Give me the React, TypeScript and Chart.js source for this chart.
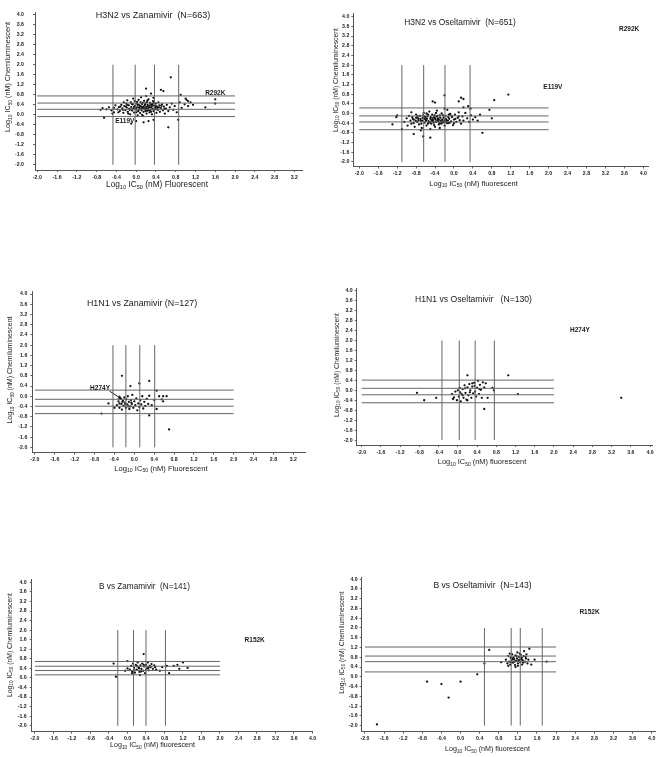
import React, { useEffect, useRef } from "react";
import { Chart, registerables } from "chart.js";

Chart.register(...registerables);

// ---------- shared tick labels ----------
const xTicksTo32 = [-2.0, -1.6, -1.2, -0.8, -0.4, 0.0, 0.4, 0.8, 1.2, 1.6, 2.0, 2.4, 2.8, 3.2];
const xTicksTo40 = [-2.0, -1.6, -1.2, -0.8, -0.4, 0.0, 0.4, 0.8, 1.2, 1.6, 2.0, 2.4, 2.8, 3.2, 3.6, 4.0];
const yTicks = [-2.0, -1.6, -1.2, -0.8, -0.4, 0.0, 0.4, 0.8, 1.2, 1.6, 2.0, 2.4, 2.8, 3.2, 3.6, 4.0];
const hLineSpan = [-2.0, 2.0];
const vLineSpan = [-2.0, 2.0];

// ---------- Panel 1: H3N2 vs Zanamivir ----------
const h3n2ZanPoints: number[][] = [
  [-0.38, 0.22], [-0.35, 0.31], [-0.33, 0.15], [-0.3, 0.4], [-0.28, 0.26], [-0.26, 0.08], [-0.24, 0.35], [-0.22, 0.19],
  [-0.2, 0.45], [-0.19, 0.29], [-0.17, 0.12], [-0.15, 0.38], [-0.14, 0.24], [-0.12, 0.02], [-0.11, 0.5], [-0.1, 0.31],
  [-0.08, 0.17], [-0.07, 0.42], [-0.05, 0.27], [-0.04, 0.09], [-0.03, 0.55], [-0.02, 0.36], [0.0, 0.21], [0.01, 0.46],
  [0.02, 0.3], [0.03, -0.02], [0.04, 0.14], [0.05, 0.6], [0.06, 0.39], [0.07, 0.25], [0.08, 0.07], [0.09, 0.5],
  [0.1, 0.33], [0.11, 0.18], [0.12, 0.43], [0.13, 0.28], [0.14, -0.05], [0.15, 0.12], [0.16, 0.56], [0.17, 0.37],
  [0.18, 0.22], [0.19, 0.47], [0.2, 0.31], [0.21, 0.05], [0.22, 0.16], [0.23, 0.4], [0.24, 0.26], [0.25, 0.62],
  [0.26, 0.35], [0.27, 0.1], [0.28, 0.48], [0.29, 0.2], [0.3, 0.3], [0.31, 0.42], [0.32, 0.02], [0.33, 0.25],
  [0.34, 0.55], [0.35, 0.15], [0.36, 0.37], [0.38, 0.28], [0.4, 0.45], [0.41, 0.08], [0.42, 0.33], [0.44, 0.2],
  [0.45, 0.5], [0.47, 0.38], [0.48, 0.12], [0.5, 0.27], [0.52, 0.42], [0.54, 0.18], [0.56, 0.33], [0.58, 0.05],
  [0.6, 0.25], [0.62, 0.4], [0.65, 0.15], [0.68, 0.3], [0.72, 0.45], [0.75, 0.2], [0.78, 0.35], [0.82, 0.1],
  [0.88, 0.5], [0.92, 0.28], [0.98, 0.42], [1.02, 0.6], [1.05, 0.35], [1.1, 0.5], [-0.45, 0.28], [-0.5, 0.18],
  [-0.55, 0.3], [-0.6, 0.22], [-0.68, 0.27], [-0.72, 0.2], [-0.48, 0.05], [-0.42, 0.38], [-0.25, 0.5], [-0.18, 0.58],
  [-0.06, 0.65], [0.1, 0.7], [0.2, 0.75], [0.35, 0.68], [-0.36, 0.1], [-0.16, 0.05], [0.0, 0.1], [0.12, 0.0],
  [0.22, 0.52], [0.3, 0.12], [0.4, 0.22], [-0.09, 0.22], [0.06, 0.3], [0.16, 0.27], [0.26, 0.18], [0.36, 0.48],
  [-0.21, 0.33], [-0.13, 0.2], [-0.01, 0.26], [0.03, 0.4], [0.08, 0.35], [0.14, 0.32], [0.18, 0.41], [0.21, 0.24],
  [0.27, 0.3], [0.32, 0.36], [0.37, 0.22], [0.43, 0.28], [-0.27, 0.2], [-0.09, 0.44], [0.05, 0.19], [0.11, 0.25],
  [0.19, 0.15], [0.24, 0.34], [0.29, 0.41], [0.39, 0.35], [-0.32, 0.33], [-0.18, 0.4], [-0.04, 0.33], [0.02, 0.52],
  [0.13, 0.48], [0.23, 0.58], [0.33, 0.44], [0.46, 0.3], [0.51, 0.36], [0.57, 0.24],
  [0.7, 1.5], [0.5, 1.0], [0.55, 0.95], [0.9, 0.8], [1.0, 0.65], [1.05, 0.55], [1.6, 0.62], [1.6, 0.45],
  [1.4, 0.3], [1.15, 0.4], [0.65, -0.5], [0.85, -0.2], [-0.65, -0.12], [-0.45, 0.1], [-0.1, -0.35], [0.0, -0.25],
  [0.15, -0.3], [0.25, -0.25], [0.35, -0.2], [0.2, 1.05], [0.3, 0.85],
];
const h3n2ZanH = [0.755, 0.47, 0.22, -0.07];
const h3n2ZanV = [-0.47, -0.02, 0.37, 0.86];
const h3n2ZanLabels = [
  { text: "R292K", x: 1.6, y: 0.86 },
  { text: "E119V", x: -0.23, y: -0.26 },
];

// ---------- Panel 2: H3N2 vs Oseltamivir ----------
const h3n2OselPoints: number[][] = [
  [-1.05, -0.35], [-1.0, -0.2], [-0.98, -0.5], [-0.95, -0.1], [-0.92, -0.3], [-0.9, -0.42], [-0.88, -0.15], [-0.85, -0.25],
  [-0.83, -0.55], [-0.8, -0.05], [-0.78, -0.35], [-0.76, -0.2], [-0.74, -0.45], [-0.72, -0.1], [-0.7, -0.3], [-0.68, -0.6],
  [-0.66, -0.18], [-0.64, 0.02], [-0.62, -0.38], [-0.6, -0.25], [-0.58, -0.5], [-0.56, -0.12], [-0.54, -0.32], [-0.52, 0.08],
  [-0.5, -0.22], [-0.48, -0.42], [-0.46, -0.05], [-0.44, -0.28], [-0.42, -0.15], [-0.4, -0.55], [-0.38, -0.35], [-0.36, 0.12],
  [-0.34, -0.2], [-0.32, -0.45], [-0.3, -0.08], [-0.28, -0.3], [-0.26, 0.0], [-0.24, -0.38], [-0.22, -0.18], [-0.2, -0.5],
  [-0.18, -0.1], [-0.16, -0.28], [-0.14, 0.15], [-0.12, -0.4], [-0.1, -0.22], [-0.08, -0.02], [-0.06, -0.33], [-0.04, -0.15],
  [-0.02, -0.48], [0.0, -0.25], [0.02, -0.05], [0.05, -0.35], [0.08, -0.18], [0.1, 0.05], [0.12, -0.28], [0.15, -0.42],
  [0.18, -0.12], [0.2, -0.3], [0.24, 0.02], [0.28, -0.2], [0.32, -0.35], [0.36, -0.08], [0.4, -0.25], [0.45, -0.15],
  [0.5, -0.3], [0.55, -0.05], [-0.85, -0.4], [-0.75, -0.28], [-0.65, -0.08], [-0.55, -0.42], [-0.45, -0.32], [-0.35, -0.1],
  [-0.25, -0.25], [-0.15, -0.4], [-0.05, -0.1], [-0.6, -0.15], [-0.5, -0.35], [-0.4, -0.2], [-0.3, -0.4], [-0.2, -0.28],
  [-0.7, -0.7], [-0.5, -0.65], [-0.3, -0.6], [-0.9, 0.05], [-0.2, 0.2], [0.2, 0.25], [-0.62, -0.22], [-0.42, -0.48],
  [-0.32, -0.25], [-0.12, -0.15], [0.0, -0.4], [-0.8, -0.18], [-0.58, 0.0], [-0.38, 0.02], [-0.18, -0.35], [0.1, -0.12],
  [-0.67, -0.3], [-0.63, -0.12], [-0.57, -0.22], [-0.53, -0.38], [-0.49, -0.15], [-0.47, -0.28], [-0.43, -0.38], [-0.39, -0.25],
  [-0.37, -0.12], [-0.33, -0.32], [-0.29, -0.18], [-0.27, -0.42], [-0.23, -0.08], [-0.21, -0.35], [-0.17, -0.22], [-0.13, -0.3],
  [-0.09, -0.38], [-0.71, -0.22], [-0.77, -0.12], [-0.81, -0.3], [-0.59, -0.3], [-0.45, -0.2], [-0.35, -0.28], [-0.25, -0.33],
  [-0.41, -0.08], [-0.55, -0.05], [-0.69, -0.42], [-0.87, -0.22], [-0.11, -0.05], [0.03, -0.22],
  [-1.3, -0.45], [-1.22, -0.15], [-1.1, -0.65], [-0.85, -0.85], [-0.65, -0.95], [-0.5, -1.0], [-0.2, 0.75], [-0.45, 0.5],
  [-0.4, 0.45], [0.1, 0.5], [0.15, 0.65], [0.2, 0.6], [0.3, 0.3], [0.6, -0.8], [0.8, -0.2], [0.75, 0.15],
  [0.85, 0.55], [1.15, 0.78], [-1.2, -0.08], [0.35, 0.2],
];
const h3n2OselH = [0.23, -0.1, -0.35, -0.67];
const h3n2OselV = [-1.1, -0.64, -0.19, 0.34];
const h3n2OselLabels = [
  { text: "R292K", x: 3.7, y: 3.48 },
  { text: "E119V", x: 2.09, y: 1.1 },
];

// ---------- Panel 3: H1N1 vs Zanamivir ----------
const h1n1ZanPoints: number[][] = [
  [-0.35, -0.35], [-0.32, -0.2], [-0.3, -0.45], [-0.28, -0.1], [-0.26, -0.3], [-0.25, -0.52], [-0.23, -0.18], [-0.22, -0.38],
  [-0.2, -0.05], [-0.19, -0.25], [-0.17, -0.45], [-0.16, -0.12], [-0.14, -0.32], [-0.13, 0.0], [-0.11, -0.22], [-0.1, -0.5],
  [-0.08, -0.4], [-0.07, -0.15], [-0.05, -0.3], [-0.04, 0.05], [-0.02, -0.45], [0.0, -0.2], [0.02, -0.35], [0.04, -0.08],
  [0.06, -0.55], [0.08, -0.28], [0.1, -0.42], [0.12, -0.15], [0.14, -0.32], [0.16, 0.0], [0.18, -0.48], [0.2, -0.22],
  [0.22, -0.38], [0.25, -0.1], [0.28, -0.3], [-0.3, -0.28], [-0.24, -0.22], [-0.18, -0.32], [-0.12, -0.4], [-0.06, -0.25],
  [0.3, 0.02], [0.35, -0.35], [-0.25, 0.8], [-0.08, 0.4], [0.1, 0.5], [0.3, 0.6], [0.45, 0.22], [0.5, 0.0],
  [0.58, 0.0], [0.65, 0.0], [0.55, -0.12], [0.58, -0.2], [0.4, -0.15], [0.7, -1.3], [-0.52, -0.28], [-0.66, -0.68],
  [0.3, -0.75], [-0.4, -0.45], [0.45, -0.5],
];
const h1n1ZanH = [0.24, -0.12, -0.39, -0.68];
const h1n1ZanV = [-0.43, -0.17, 0.11, 0.41];
const h1n1ZanLabels = [{ text: "H274Y", x: -0.69, y: 0.31 }];
const h1n1ZanArrow: number[][] = [[-0.5, 0.2], [-0.24, -0.12]];

// ---------- Panel 4: H1N1 vs Oseltamivir ----------
const h1n1OselPoints: number[][] = [
  [-0.1, -0.35], [-0.05, -0.05], [-0.02, -0.4], [0.0, 0.0], [0.02, -0.25], [0.04, 0.1], [0.06, -0.45], [0.08, -0.15],
  [0.1, 0.05], [0.12, -0.3], [0.14, 0.2], [0.16, -0.1], [0.18, -0.38], [0.2, 0.12], [0.22, -0.2], [0.24, 0.25],
  [0.26, 0.0], [0.28, -0.3], [0.3, 0.15], [0.32, -0.12], [0.34, 0.3], [0.36, -0.05], [0.38, -0.25], [0.4, 0.1],
  [0.42, 0.38], [0.44, -0.15], [0.46, 0.22], [0.48, 0.02], [0.5, -0.3], [0.52, 0.32], [0.55, 0.12], [0.58, 0.28],
  [-0.12, -0.15], [-0.08, -0.28], [0.05, -0.08], [0.15, 0.08], [0.25, -0.08], [0.35, 0.18], [0.45, 0.05], [0.2, -0.4],
  [0.1, -0.2], [0.3, 0.28], [-0.85, -0.1], [-0.7, -0.4], [-0.45, -0.3], [0.2, 0.6], [0.55, -0.75], [0.62, -0.3],
  [0.75, 0.0], [0.72, 0.1], [1.05, 0.6], [1.25, -0.15], [3.4, -0.3],
];
const h1n1OselH = [0.41, 0.08, -0.18, -0.5];
const h1n1OselV = [-0.33, 0.03, 0.36, 0.76];
const h1n1OselLabels = [{ text: "H274Y", x: 2.54, y: 2.4 }];

// ---------- Panel 5: B vs Zanamivir ----------
const bZanPoints: number[][] = [
  [0.05, 0.35], [0.08, 0.5], [0.1, 0.28], [0.12, 0.6], [0.14, 0.42], [0.16, 0.22], [0.18, 0.55], [0.2, 0.35],
  [0.22, 0.65], [0.24, 0.45], [0.26, 0.25], [0.28, 0.52], [0.3, 0.38], [0.32, 0.6], [0.34, 0.3], [0.36, 0.48],
  [0.38, 0.2], [0.4, 0.55], [0.42, 0.4], [0.44, 0.65], [0.46, 0.32], [0.48, 0.5], [0.5, 0.45], [0.52, 0.58],
  [0.55, 0.38], [0.58, 0.52], [0.6, 0.45], [0.62, 0.35], [0.15, 0.32], [0.25, 0.4], [0.35, 0.55], [0.45, 0.42],
  [0.2, 0.5], [0.3, 0.28], [0.4, 0.32], [0.0, 0.4], [-0.05, 0.3], [0.1, 0.2], [0.27, 0.12], [-0.25, 0.05],
  [-0.3, 0.6], [0.35, 1.0], [0.7, 0.3], [0.75, 0.45], [0.85, 0.5], [0.9, 0.2], [1.0, 0.5], [1.08, 0.55],
  [1.12, 0.38], [1.2, 0.65], [1.3, 0.42], [0.0, 0.7],
];
const bZanH = [0.69, 0.49, 0.31, 0.13];
const bZanV = [-0.21, 0.13, 0.4, 0.82];
const bZanLabels = [{ text: "R152K", x: 2.75, y: 1.57 }];

// ---------- Panel 6: B vs Oseltamivir ----------
const bOselPoints: number[][] = [
  [0.95, 0.7], [0.98, 0.55], [1.0, 0.85], [1.02, 0.62], [1.04, 0.5], [1.05, 0.78], [1.07, 0.68], [1.08, 0.92],
  [1.1, 0.58], [1.11, 0.8], [1.12, 0.72], [1.14, 0.48], [1.15, 0.88], [1.16, 0.65], [1.18, 0.75], [1.19, 1.0],
  [1.2, 0.55], [1.22, 0.82], [1.23, 0.7], [1.25, 0.6], [1.26, 0.9], [1.28, 0.78], [1.29, 0.5], [1.3, 0.68],
  [1.32, 0.85], [1.33, 1.05], [1.35, 0.62], [1.37, 0.75], [1.38, 0.92], [1.4, 0.55], [1.42, 0.7], [1.44, 1.15],
  [1.06, 0.6], [1.13, 0.62], [1.17, 0.85], [1.21, 0.66], [1.27, 0.72], [1.09, 0.74], [1.24, 0.95], [1.31, 0.58],
  [1.03, 0.95], [1.36, 0.82], [1.0, 0.45], [1.15, 0.4], [1.2, 0.45], [0.6, 1.1], [0.5, 0.55], [0.35, 0.1],
  [0.0, -0.2], [-0.7, -0.2], [-0.4, -0.3], [-0.25, -0.85], [-1.75, -1.95], [1.8, 0.62], [1.48, 0.5], [0.85, 0.6],
  [1.55, 0.7],
];
const bOselH = [1.22, 0.85, 0.62, 0.2];
const bOselV = [0.5, 1.06, 1.25, 1.71];
const bOselLabels = [{ text: "R152K", x: 2.7, y: 2.63 }];

// ---------- layout ----------
const FONT = "'Liberation Sans', Arial, Helvetica, sans-serif";
const Y_AXIS_W = 20;
const X_AXIS_H = 12;

type Panel = {
  box: { left: number; top: number; w: number; h: number };
  area: { l: number; r: number; t: number; b: number }; // l/r page x, t/b canvas-local y
  xRange: number[];
  yRange: number[];
  xTicks: number[];
  points: number[][];
  hLines: number[];
  vLines: number[];
  labels: { text: string; x: number; y: number }[];
  arrow?: number[][];
  title: string;
  titlePos: number[];
  titleSize: number;
  yTitlePos: number[];
  yTitleSize: number;
  xTitlePos: number[];
  xTitleSize: number;
  xWord: string;
  yTickPad: number;
};

const panels: Panel[] = [
  {
    box: { left: 0, top: 0, w: 330, h: 195 },
    area: { l: 35, r: 302, t: 8, b: 170 },
    xRange: [-2.047, 3.355], yRange: [-2.206, 4.105], xTicks: xTicksTo32,
    points: h3n2ZanPoints, hLines: h3n2ZanH, vLines: h3n2ZanV, labels: h3n2ZanLabels,
    title: "H3N2 vs Zanamivir  (N=663)", titlePos: [153, 16], titleSize: 9,
    yTitlePos: [8.5, 77], yTitleSize: 7.2, xTitlePos: [157, 185], xTitleSize: 8.3, xWord: "Fluorescent", yTickPad: 9,
  },
  {
    box: { left: 330, top: 0, w: 333, h: 195 },
    area: { l: 353.3, r: 648, t: 13.3, b: 166.5 },
    xRange: [-2.127, 4.1], yRange: [-2.19, 4.14], xTicks: xTicksTo40,
    points: h3n2OselPoints, hLines: h3n2OselH, vLines: h3n2OselV, labels: h3n2OselLabels,
    title: "H3N2 vs Oseltamivir  (N=651)", titlePos: [130, 23], titleSize: 8.4,
    yTitlePos: [6, 80], yTitleSize: 6.8, xTitlePos: [143.5, 183.5], xTitleSize: 7.4, xWord: "fluorescent", yTickPad: 2,
  },
  {
    box: { left: 0, top: 280, w: 330, h: 195 },
    area: { l: 32.3, r: 305, t: 11, b: 172.7 },
    xRange: [-2.054, 3.436], yRange: [-2.21, 4.12], xTicks: xTicksTo32,
    points: h1n1ZanPoints, hLines: h1n1ZanH, vLines: h1n1ZanV, labels: h1n1ZanLabels, arrow: h1n1ZanArrow,
    title: "H1N1 vs Zanamivir (N=127)", titlePos: [142, 23.5], titleSize: 8.9,
    yTitlePos: [10, 90], yTitleSize: 7.0, xTitlePos: [161, 188.5], xTitleSize: 7.6, xWord: "Fluorescent", yTickPad: 3,
  },
  {
    box: { left: 330, top: 280, w: 333, h: 195 },
    area: { l: 356.7, r: 652, t: 8, b: 165 },
    xRange: [-2.104, 4.04], yRange: [-2.197, 4.11], xTicks: xTicksTo40,
    points: h1n1OselPoints, hLines: h1n1OselH, vLines: h1n1OselV, labels: h1n1OselLabels,
    title: "H1N1 vs Oseltamivir   (N=130)", titlePos: [143.5, 20], titleSize: 8.6,
    yTitlePos: [7, 85], yTitleSize: 6.8, xTitlePos: [152, 182], xTitleSize: 7.4, xWord: "fluorescent", yTickPad: 2,
  },
  {
    box: { left: 0, top: 565, w: 330, h: 192 },
    area: { l: 31.7, r: 312.5, t: 14.5, b: 166.7 },
    xRange: [-2.071, 4.0], yRange: [-2.25, 4.12], xTicks: xTicksTo40,
    points: bZanPoints, hLines: bZanH, vLines: bZanV, labels: bZanLabels,
    title: "B vs Zamamivir  (N=141)", titlePos: [144.5, 22], titleSize: 8.2,
    yTitlePos: [10, 80], yTitleSize: 6.8, xTitlePos: [152.5, 180], xTitleSize: 7.1, xWord: "fluorescent", yTickPad: 3,
  },
  {
    box: { left: 330, top: 565, w: 333, h: 192 },
    area: { l: 361.7, r: 655, t: 12, b: 166.7 },
    xRange: [-2.069, 4.07], yRange: [-2.25, 4.09], xTicks: xTicksTo40,
    points: bOselPoints, hLines: bOselH, vLines: bOselV, labels: bOselLabels,
    title: "B vs Oseltamivir  (N=143)", titlePos: [152.5, 21], titleSize: 8.6,
    yTitlePos: [11.7, 77.5], yTitleSize: 6.7, xTitlePos: [157.5, 184.3], xTitleSize: 7.1, xWord: "fluorescent", yTickPad: 2,
  },
];

function drawSubText(ctx: CanvasRenderingContext2D, parts: [string, boolean][], size: number) {
  const sub = size * 0.68;
  let total = 0;
  const widths = parts.map(([t, s]) => {
    ctx.font = `${s ? sub : size}px ${FONT}`;
    const w = ctx.measureText(t).width;
    total += w;
    return w;
  });
  let x = -total / 2;
  parts.forEach(([t, s], i) => {
    ctx.font = `${s ? sub : size}px ${FONT}`;
    ctx.fillText(t, x, s ? size * 0.32 : 0);
    x += widths[i];
  });
}

function PanelChart({ p }: { p: Panel }) {
  const ref = useRef<HTMLCanvasElement | null>(null);
  useEffect(() => {
    if (!ref.current) return;
    const lineStyle = { showLine: true, pointRadius: 0, borderColor: "#666", borderWidth: 1, fill: false };
    const datasets: any[] = [];
    p.hLines.forEach((v) => datasets.push({ ...lineStyle, data: hLineSpan.map((x) => ({ x, y: v })) }));
    p.vLines.forEach((v) => datasets.push({ ...lineStyle, data: vLineSpan.map((y) => ({ x: v, y })) }));
    if (p.arrow) {
      datasets.push({ ...lineStyle, borderColor: "#222", data: p.arrow.map(([x, y]) => ({ x, y })) });
    }
    datasets.push({
      data: p.points.map(([x, y]) => ({ x, y })),
      pointRadius: 1.15,
      pointBorderWidth: 0,
      pointBackgroundColor: "#111",
      showLine: false,
    });

    const textPlugin = {
      id: "panelText",
      afterDraw(chart: any) {
        const ctx = chart.ctx as CanvasRenderingContext2D;
        const xs = chart.scales.x;
        const ys = chart.scales.y;
        ctx.save();
        ctx.fillStyle = "#1a1a1a";
        ctx.textBaseline = "middle";
        ctx.textAlign = "left";
        ctx.font = `${p.titleSize}px ${FONT}`;
        const tw = ctx.measureText(p.title).width;
        ctx.fillText(p.title, p.titlePos[0] - tw / 2, p.titlePos[1]);
        ctx.save();
        ctx.translate(p.xTitlePos[0], p.xTitlePos[1]);
        drawSubText(ctx, [["Log", false], ["10", true], [" IC", false], ["50", true], [" (nM) " + p.xWord, false]], p.xTitleSize);
        ctx.restore();
        ctx.save();
        ctx.translate(p.yTitlePos[0], p.yTitlePos[1]);
        ctx.rotate(-Math.PI / 2);
        drawSubText(ctx, [["Log", false], ["10", true], [" IC", false], ["50", true], [" (nM) Chemiluminescent", false]], p.yTitleSize);
        ctx.restore();
        ctx.font = `bold 6.5px ${FONT}`;
        ctx.textAlign = "center";
        p.labels.forEach((l) => {
          ctx.fillText(l.text, xs.getPixelForValue(l.x), ys.getPixelForValue(l.y));
        });
        if (p.arrow) {
          const x1 = xs.getPixelForValue(p.arrow[0][0]);
          const y1 = ys.getPixelForValue(p.arrow[0][1]);
          const x2 = xs.getPixelForValue(p.arrow[1][0]);
          const y2 = ys.getPixelForValue(p.arrow[1][1]);
          const a = Math.atan2(y2 - y1, x2 - x1);
          const L = 5;
          ctx.beginPath();
          ctx.moveTo(x2, y2);
          ctx.lineTo(x2 - L * Math.cos(a - 0.4), y2 - L * Math.sin(a - 0.4));
          ctx.lineTo(x2 - L * Math.cos(a + 0.4), y2 - L * Math.sin(a + 0.4));
          ctx.closePath();
          ctx.fill();
        }
        ctx.restore();
      },
    };

    const tickFont = { size: 5.2, family: FONT, weight: "bold" as const };
    const chart = new Chart(ref.current, {
      type: "scatter",
      data: { datasets },
      options: {
        responsive: false,
        animation: false,
        events: [],
        layout: {
          padding: {
            left: p.area.l - p.box.left - Y_AXIS_W,
            right: p.box.left + p.box.w - p.area.r,
            top: p.area.t,
            bottom: p.box.h - p.area.b - X_AXIS_H,
          },
        },
        plugins: { legend: { display: false }, tooltip: { enabled: false }, title: { display: false } },
        scales: {
          x: {
            type: "linear",
            min: p.xRange[0],
            max: p.xRange[1],
            afterBuildTicks: (s: any) => {
              s.ticks = p.xTicks.map((v) => ({ value: v }));
            },
            afterFit: (s: any) => {
              s.height = X_AXIS_H;
            },
            ticks: {
              autoSkip: false,
              maxRotation: 0,
              minRotation: 0,
              padding: 2,
              color: "#222",
              font: tickFont,
              callback: (v: any) => Number(v).toFixed(1),
            },
            grid: { drawOnChartArea: false, drawTicks: true, tickLength: 2, color: "#666" },
            border: { display: true, color: "#555", width: 1 },
          },
          y: {
            type: "linear",
            min: p.yRange[0],
            max: p.yRange[1],
            afterBuildTicks: (s: any) => {
              s.ticks = yTicks.map((v) => ({ value: v }));
            },
            afterFit: (s: any) => {
              s.width = Y_AXIS_W;
            },
            ticks: {
              autoSkip: false,
              padding: p.yTickPad,
              color: "#222",
              font: tickFont,
              callback: (v: any) => Number(v).toFixed(1),
            },
            grid: { drawOnChartArea: false, drawTicks: true, tickLength: 2, color: "#666" },
            border: { display: true, color: "#555", width: 1 },
          },
        },
      } as any,
      plugins: [textPlugin],
    });
    return () => chart.destroy();
  }, [p]);

  return (
    <canvas
      ref={ref}
      width={p.box.w}
      height={p.box.h}
      style={{ position: "absolute", left: p.box.left, top: p.box.top, width: p.box.w, height: p.box.h }}
    />
  );
}

export default function App() {
  return (
    <div style={{ position: "absolute", left: 0, top: 0, width: 663, height: 757, background: "#fff", overflow: "hidden" }}>
      {panels.map((p, i) => (
        <PanelChart key={i} p={p} />
      ))}
    </div>
  );
}
